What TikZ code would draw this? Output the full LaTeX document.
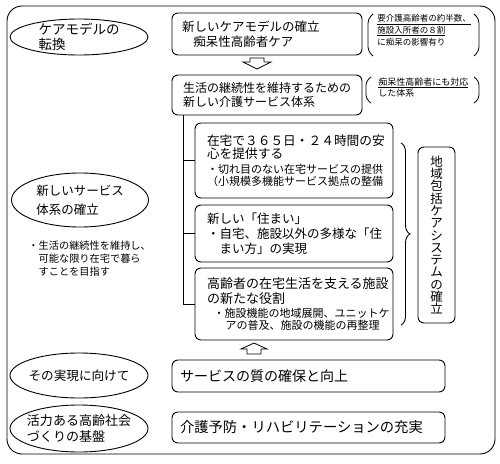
\documentclass[tikz,border=0pt]{standalone}
\usepackage{fontspec}
\setmainfont{Noto Sans CJK JP}
\usetikzlibrary{shapes.geometric,decorations.pathreplacing,calc}
\begin{document}
\begin{tikzpicture}[x=1pt,y=-1pt, line width=0.9pt,
  oval/.style={draw, ellipse, inner sep=0pt},
  ovaltext/.style={align=left, inner sep=0pt},
  rbox/.style={draw, rounded corners=6pt, align=left, inner ysep=0pt},
  note/.style={align=left, inner sep=0pt},
  hollow/.style={draw, line width=0.8pt, fill=white, line join=miter},
  paren/.style={rounded corners=4pt, line width=0.8pt}]
\useasboundingbox (0,0) rectangle (500,463);
\draw[rounded corners=15pt] (7,6) rectangle (495,454);

% left ellipses
\node[oval, minimum width=138pt, minimum height=36pt] (e1) at (79,37) {};
\node[ovaltext, font=\fontsize{13.5}{15.5}\selectfont] (e1t) at (e1.center) {ケアモデルの\\転換};
\node[oval, minimum width=137pt, minimum height=54pt] (e2) at (80,200) {};
\node[ovaltext, font=\fontsize{12.5}{19}\selectfont] (e2t) at (e2.center) {新しいサービス\\体系の確立};
\node[note, anchor=north west, font=\fontsize{10.2}{13}\selectfont] (sub) at (28,240) {・生活の継続性を維持し、\\\hspace*{1em}可能な限り在宅で暮ら\\\hspace*{1em}すことを目指す};
\node[oval, minimum width=138pt, minimum height=45pt] (e3) at (79,375.5) {};
\node[ovaltext, font=\fontsize{12.6}{15}\selectfont] (e3t) at (e3.center) {その実現に向けて};
\node[oval, minimum width=138pt, minimum height=47pt] (e4) at (79,428.5) {};
\node[ovaltext, font=\fontsize{13}{15.5}\selectfont] (e4t) at (e4.center) {活力ある高齢社会\\づくりの基盤};

% right boxes
\node[rbox, text width=170pt, inner xsep=10pt, minimum height=42pt, font=\fontsize{12.5}{15}\selectfont] (A) at (267,34) {新しいケアモデルの確立\\\hspace*{0.9em}痴呆性高齢者ケア};
\node[rbox, text width=168pt, inner xsep=11pt, minimum height=40pt, font=\fontsize{12}{14}\selectfont] (B) at (267,95) {生活の継続性を維持するための\\新しい介護サービス体系};

\node[rbox, text width=174pt, inner xsep=12pt, minimum height=75pt] (C1) at (294,160.5)
  {\fontsize{12.7}{13}\selectfont 在宅で３６５日・２４時間の安\\心を提供する\par
   \vspace{1.5pt}\fontsize{11}{13.5}\selectfont ・切れ目のない在宅サービスの提供\\（小規模多機能サービス拠点の整備};
\node[rbox, text width=174pt, inner xsep=12pt, minimum height=57pt, font=\fontsize{12.5}{15}\selectfont] (C2) at (294,233.5)
  {新しい「住まい」\\・自宅、施設以外の多様な「住\\\hspace*{1em}まい方」の実現};
\node[rbox, text width=174pt, inner xsep=12pt, minimum height=72pt] (C3) at (294,304)
  {\fontsize{13}{15}\selectfont 高齢者の在宅生活を支える施設\\の新たな役割\par
   \vspace{1pt}\fontsize{11}{13}\selectfont\hspace*{0.6em}・施設機能の地域展開、ユニットケ\\\hspace*{1.7em}アの普及、施設の機能の再整理};

\node[rbox, align=center, text width=37pt, inner xsep=0pt, minimum height=176pt, font=\fontsize{12.5}{12.3}\selectfont] (V) at (436.5,235)
  {地\\域\\包\\括\\ケ\\ア\\シ\\ス\\テ\\ム\\の\\確\\立};

\node[rbox, text width=257pt, inner xsep=8pt, minimum height=32pt, font=\fontsize{14}{16}\selectfont] (D) at (308.5,376) {サービスの質の確保と向上};
\node[rbox, text width=257pt, inner xsep=8pt, minimum height=31pt, font=\fontsize{14.3}{16}\selectfont] (E) at (308.5,427.5) {介護予防・リハビリテーションの充実};

% notes
\node[note, anchor=north west, font=\fontsize{8.5}{12}\selectfont] (n1) at (377,14)
  {\underline{要介護高齢者の約半数、}\\\underline{施設入所者の８割}\\に痴呆の影響有り};
\draw[paren] (373,14) -- (368,19) -- (368,51) -- (373,56);
\draw[paren] (474,14) -- (479,19) -- (479,51) -- (474,56);
\node[note, anchor=north west, font=\fontsize{9}{11}\selectfont] (n2) at (378,77)
  {\underline{痴呆性高齢者にも対応}\\した体系};
\draw[paren] (371,77) -- (366,81) -- (366,99) -- (371,103);
\draw[paren] (474,77) -- (479,81) -- (479,99) -- (474,103);

% tree connectors
\coordinate (t0) at (183,115);
\draw (t0) |- (C3.west);
\draw (t0 |- C1.west) -- (C1.west);
\draw (t0 |- C2.west) -- (C2.west);

% brace
\draw[decorate, decoration={brace, amplitude=9pt}] (401,143) -- (401,325);

% hollow arrows
\draw[hollow] (250,58) -- (264,58) -- (264,62) -- (271,62) -- (257,69) -- (243,62) -- (250,62) -- cycle;
\draw[hollow] (254,343) -- (267,349) -- (261,349) -- (261,354) -- (247,354) -- (247,349) -- (241,349) -- cycle;
\end{tikzpicture}
\end{document}
